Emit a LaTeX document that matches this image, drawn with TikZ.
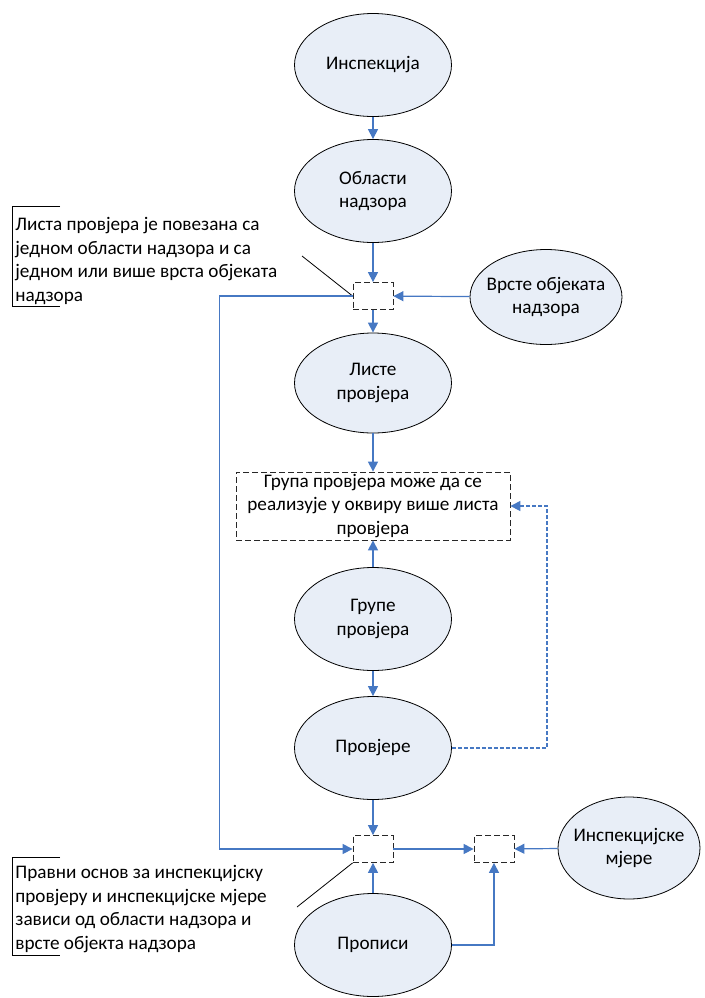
\documentclass[tikz,border=0pt]{standalone}
\usepackage{fontspec}
\setmainfont{Carlito}
\definecolor{ellfill}{RGB}{232, 238, 247}
\definecolor{linkblue}{RGB}{70, 120, 195}
\definecolor{dashgray}{RGB}{40, 40, 40}
\usetikzlibrary{shapes.geometric, arrows.meta}

\begin{document}
\begin{tikzpicture}[
  x=0.5pt, y=-0.5pt,
  font=\fontsize{9.6}{11.75}\selectfont,
  ell/.style={ellipse, draw, thin, fill=ellfill, minimum width=78.5pt, minimum height=51.5pt, align=center, inner sep=-12pt},
  junc/.style={draw=dashgray, thin, dash pattern=on 3pt off 1.5pt, minimum width=20pt, minimum height=13.5pt, inner sep=0pt},
  link/.style={draw=linkblue, line width=0.6pt, -{Triangle[width=5pt, length=5pt]}},
  note/.style={anchor=north west, align=left, inner sep=0pt},
]
  \useasboundingbox (0,0) rectangle (705,998);

  % main column
  \node[ell] (insp) at (373, 65) {Инспекција};
  \node[ell] (obl) at (373, 191) {Области\\надзора};
  \node[junc] (j1) at (373, 296) {};
  \node[ell, minimum width=76pt, minimum height=47.5pt] (vrste) at (546, 297) {Врсте објеката\\надзора};
  \node[ell, minimum height=50pt] (liste) at (373, 383) {Листе\\провјера};
  \node[draw=dashgray, thin, dash pattern=on 3pt off 1.5pt, minimum width=137pt, minimum height=34pt, align=center, inner sep=0pt] (grupa) at (373, 506) {Група провјера може да се\\реализује у оквиру више листа\\провјера};
  \node[ell] (grupe) at (373, 619) {Групе\\провјера};
  \node[ell] (provj) at (373, 748) {Провјере};
  \node[junc] (j2) at (373, 849) {};
  \node[junc] (j3) at (494, 849) {};
  \node[ell, minimum width=71pt, minimum height=51pt] (mjere) at (629, 848) {Инспекцијске\\мјере};
  \node[ell] (propisi) at (373, 945) {Прописи};

  % notes
  \node[note] (nt1) at (15, 217) {Листа провјера је повезана са\\једном области надзора и са\\једном или више врста објеката\\надзора};
  \draw[thin] (60,206) -| (12,306) -- (60,306);
  \coordinate (c1) at (302, 256);
  \draw[thin] (c1) -- (j1.west);

  \node[note] (nt2) at (15, 865) {Правни основ за инспекцијску\\провјеру и инспекцијске мјере\\зависи од области надзора и\\врсте објекта надзора};
  \draw[thin] (60,857) -| (12,955) -- (60,955);
  \coordinate (c2) at (297, 907);
  \draw[thin] (c2) -- (j2.south west);

  % connectors
  \draw[link] (insp) -- (obl);
  \draw[link] (obl) -- (j1);
  \draw[link] (vrste) -- (j1);
  \draw[link] (j1) -- (liste);
  \draw[link] (liste) -- (grupa);
  \draw[link] (grupe) -- (grupa);
  \draw[link] (grupe) -- (provj);
  \draw[link] (provj) -- (j2);
  \draw[link] (j1.west) -- ++(-133,0) |- (j2.west);
  \draw[link, dash pattern=on 2pt off 1pt] (provj.east) -- ++(95,0) |- (grupa.east);
  \draw[link] (j2) -- (j3);
  \draw[link] (mjere) -- (j3);
  \draw[link] (propisi) -- (j2);
  \draw[link] (propisi.east) -| (j3.south);
\end{tikzpicture}
\end{document}
